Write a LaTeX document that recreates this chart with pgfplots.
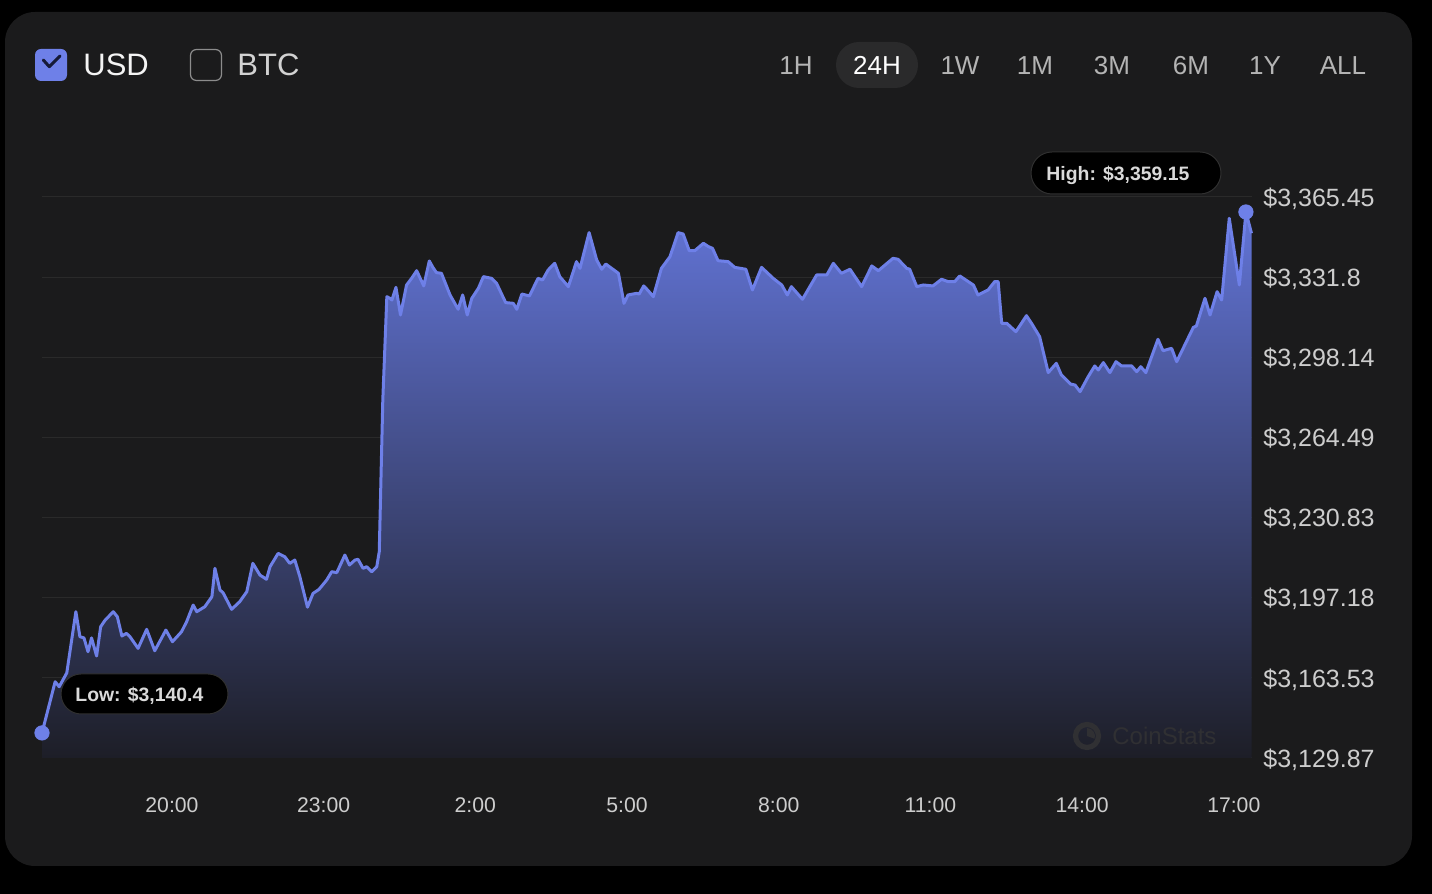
\documentclass[border=0pt]{standalone}
\usepackage{fontspec}
\setmainfont{Liberation Sans}
\usepackage{pgfplots}
\pgfplotsset{compat=1.18}
\usepackage{pgfplotstable}

\definecolor{bgcard}{HTML}{1B1B1C}
\definecolor{gridc}{HTML}{2A2A2A}
\definecolor{linec}{HTML}{6E80E8}
\definecolor{fillTop}{HTML}{6274D6}
\definecolor{fillBot}{HTML}{1D1E27}
\definecolor{tickc}{HTML}{CDCDCD}
\definecolor{btnc}{HTML}{B4B4B4}
\definecolor{pillc}{HTML}{2A2A2B}
\definecolor{wmc}{HTML}{303033}

% hours (20 = 20:00, 26 = 2:00 next day), price in USD
\pgfplotstableread{
h p
17.43 3140.4
17.69 3161.9
17.77 3159.8
17.92 3165.6
18.10 3191.3
18.18 3180.8
18.26 3180.3
18.34 3174.5
18.41 3180.3
18.51 3172.7
18.59 3185.0
18.68 3187.8
18.84 3191.3
18.92 3189.2
19.01 3181.1
19.10 3182.2
19.17 3180.8
19.33 3175.9
19.50 3183.9
19.66 3174.9
19.88 3183.6
20.01 3178.7
20.19 3182.9
20.29 3187.1
20.42 3194.1
20.49 3191.3
20.65 3193.4
20.79 3197.6
20.85 3209.5
20.95 3200.4
21.01 3199.3
21.18 3192.3
21.34 3195.5
21.48 3199.7
21.60 3211.6
21.74 3206.7
21.87 3204.9
21.94 3210.2
22.10 3215.8
22.23 3214.4
22.33 3211.6
22.43 3213.0
22.53 3206.0
22.68 3193.2
22.79 3199.0
22.91 3200.7
23.06 3204.6
23.16 3208.1
23.26 3207.7
23.42 3215.1
23.51 3210.9
23.62 3213.0
23.68 3213.3
23.78 3209.5
23.85 3210.2
23.95 3208.1
24.05 3210.2
24.10 3216.5
24.17 3280.2
24.25 3323.6
24.31 3322.9
24.35 3322.2
24.43 3327.5
24.52 3315.9
24.64 3328.5
24.74 3331.3
24.84 3334.5
24.98 3328.1
25.09 3338.6
25.16 3335.9
25.23 3333.7
25.33 3333.4
25.50 3324.3
25.66 3318.3
25.75 3324.3
25.84 3315.9
25.93 3322.9
26.06 3327.1
26.16 3332.0
26.32 3331.3
26.42 3329.2
26.60 3321.1
26.75 3320.8
26.82 3318.3
26.92 3324.7
27.07 3323.9
27.24 3331.3
27.33 3330.6
27.44 3334.8
27.57 3337.6
27.67 3332.0
27.84 3327.8
28.00 3338.3
28.07 3335.5
28.25 3350.5
28.40 3339.0
28.50 3335.1
28.58 3337.3
28.83 3333.4
28.94 3320.8
29.02 3324.3
29.19 3325.0
29.24 3324.7
29.33 3328.1
29.42 3326.1
29.52 3323.6
29.68 3335.5
29.85 3340.4
30.01 3350.5
30.11 3349.9
30.23 3342.9
30.34 3342.9
30.51 3346.0
30.61 3344.6
30.69 3343.9
30.80 3338.7
31.00 3338.3
31.13 3335.9
31.35 3335.1
31.48 3326.4
31.66 3335.9
31.89 3331.3
32.06 3328.5
32.17 3324.3
32.25 3327.8
32.47 3322.5
32.75 3332.7
32.95 3332.7
33.08 3337.6
33.24 3333.4
33.41 3335.1
33.64 3327.8
33.84 3336.5
33.97 3334.5
34.26 3339.7
34.36 3339.3
34.53 3335.5
34.59 3335.1
34.73 3327.8
34.86 3328.5
35.05 3328.1
35.22 3330.9
35.35 3329.9
35.48 3329.9
35.58 3332.3
35.85 3328.5
35.94 3324.3
36.14 3326.4
36.27 3329.9
36.34 3329.9
36.41 3312.4
36.51 3312.4
36.69 3308.9
36.90 3315.6
37.00 3312.4
37.16 3306.8
37.33 3291.7
37.49 3295.6
37.59 3290.7
37.77 3286.9
37.86 3286.5
37.96 3283.7
38.12 3290.0
38.25 3294.5
38.32 3292.8
38.42 3295.9
38.55 3291.7
38.67 3296.3
38.78 3294.5
38.98 3294.5
39.08 3292.1
39.16 3294.2
39.26 3291.7
39.50 3305.7
39.60 3300.9
39.77 3301.9
39.87 3296.3
40.20 3310.7
40.26 3311.3
40.43 3322.9
40.53 3315.9
40.67 3325.7
40.76 3322.2
40.91 3356.5
41.11 3328.5
41.24 3359.15
41.35 3350.2
}\pricedata

\begin{document}
\begin{tikzpicture}
% all placement in pt: 1 px of the 1432x894 frame = 0.5pt
\begin{scope}[x=0.5pt,y=0.5pt]
\fill[black] (0,0) rectangle (1432,894);
\fill[bgcard, rounded corners=15pt] (5,28) rectangle (1412,882);

% currency toggles
\fill[linec, rounded corners=3pt] (35,813) rectangle (67,845);
\draw[color={rgb,255:red,22;green,26;blue,56}, line width=1.5pt, line cap=round, line join=round]
  (43.3,834) -- (49.3,827.3) -- (60,838);
\node[anchor=base west, inner sep=0pt, text={rgb,255:red,244;green,244;blue,244}]
  at (83,818) {\fontsize{15.5}{18}\selectfont USD};
\draw[color={rgb,255:red,140;green,140;blue,140}, line width=0.6pt, rounded corners=3pt]
  (190.5,813.5) rectangle (221.5,844.5);
\node[anchor=base west, inner sep=0pt, text={rgb,255:red,210;green,210;blue,210}]
  at (237,818) {\fontsize{15.5}{18}\selectfont BTC};

% range buttons
\fill[pillc, rounded corners=11.5pt] (836,806) rectangle (918,852);
\foreach \cx/\lab in {796/1H,960/1W,1035/1M,1112/3M,1191/6M,1265/1Y,1343/ALL}
  \node[anchor=base, inner sep=0pt, text=btnc] at (\cx,819) {\fontsize{13}{15}\selectfont \lab};
\node[anchor=base, inner sep=0pt, text=white] at (877,819) {\fontsize{13}{15}\selectfont 24H};
\end{scope}

\begin{axis}[
  at={(21pt,68pt)}, anchor=south west,
  scale only axis, width=605pt, height=280.5pt,
  xmin=17.43, xmax=41.36, ymin=3129.87, ymax=3365.45,
  clip=false,
  axis line style={draw=none},
  major tick length=0pt,
  ymajorgrids, grid style={gridc, line width=0.5pt},
  xtick={20,23,26,29,32,35,38,41},
  xticklabels={20:00,23:00,2:00,5:00,8:00,11:00,14:00,17:00},
  ytick={3129.87,3163.53,3197.18,3230.83,3264.49,3298.14,3331.8,3365.45},
  yticklabels={{\$3,129.87},{\$3,163.53},{\$3,197.18},{\$3,230.83},{\$3,264.49},{\$3,298.14},{\$3,331.8},{\$3,365.45}},
  yticklabel pos=right,
  yticklabel style={anchor=west, inner sep=0pt, xshift=5.5pt, yshift=-0.8pt, text=tickc, font=\fontsize{12.5}{14}\selectfont},
  xticklabel style={anchor=base, inner sep=0pt, yshift=-27.5pt, text=tickc, font=\fontsize{10.6}{12}\selectfont},
]
\addplot[draw=none, top color=fillTop, bottom color=fillBot] table {\pricedata}
  -- (axis cs:41.35,3129.87) -- (axis cs:17.43,3129.87) -- cycle;
\addplot[linec, line width=1.5pt, line join=round] table {\pricedata};
\addplot[only marks, mark=*, mark size=3.6pt, color=linec] coordinates {(17.43,3140.4) (41.24,3359.15)};
\end{axis}

\begin{scope}[x=0.5pt,y=0.5pt]
% watermark over the area
\draw[wmc, line width=2.6pt] (1087,158) circle (11.5);
\fill[wmc] (1087,158) -- (1087,166) arc (90:-20:8) -- cycle;
\node[anchor=west, inner sep=0pt, text=wmc] at (1112,158) {\fontsize{12}{14}\selectfont CoinStats};

% high / low labels
\draw[fill=black, draw={rgb,255:red,48;green,48;blue,48}, line width=0.5pt, rounded corners=10.5pt]
  (1031,700) rectangle (1221,742);
\node[anchor=base west, inner sep=0pt, text={rgb,255:red,218;green,218;blue,218}]
  at (1046,713) {\fontsize{9.7}{12}\selectfont\bfseries High: \$3,359.15};
\draw[fill=black, draw={rgb,255:red,48;green,48;blue,48}, line width=0.5pt, rounded corners=10pt]
  (61,180) rectangle (228,220);
\node[anchor=base west, inner sep=0pt, text={rgb,255:red,218;green,218;blue,218}]
  at (75,192.3) {\fontsize{9.7}{12}\selectfont\bfseries Low: \$3,140.4};
\end{scope}
\end{tikzpicture}
\end{document}
